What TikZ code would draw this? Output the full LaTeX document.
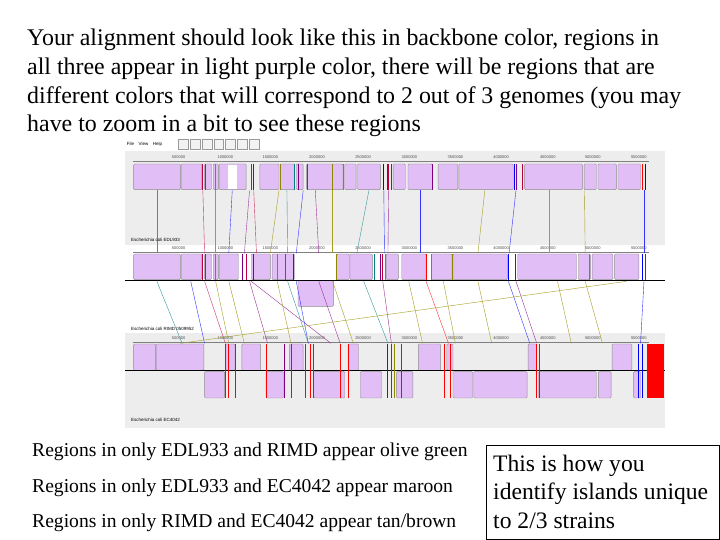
\documentclass[tikz,border=0pt]{standalone}
\usepackage{fontspec}
\setmainfont{Liberation Serif}
\newfontfamily\sansf{Liberation Sans}
\begin{document}
\begin{tikzpicture}[x=1pt,y=-1pt,
 tl/.style={anchor=base west, font=\fontsize{23.9}{23.9}\selectfont, inner sep=0},
 rl/.style={anchor=base west, font=\fontsize{23.6}{23.6}\selectfont, inner sep=0},
 bl/.style={anchor=base west, font=\fontsize{19.6}{19.6}\selectfont, inner sep=0},
 tk/.style={font=\sansf\fontsize{4}{4}\selectfont, text=black!70, inner sep=0},
 gn/.style={font=\sansf\fontsize{4.5}{4.5}\selectfont, anchor=west, inner sep=0}]
\useasboundingbox (0,0) rectangle (720,540);
\definecolor{bb}{RGB}{225,190,245}
\tikzset{blk/.style={fill=bb, draw=black!45, rounded corners=1pt, line width=0.4pt}}
\node[tl] (t1) at (27,46) {Your alignment should look like this in backbone color, regions in};
\node[tl] (t2) at (27,75) {all three appear in light purple color, there will be regions that are};
\node[tl] (t3) at (27,104) {different colors that will correspond to 2 out of 3 genomes (you may};
\node[tl] (t4) at (27,132) {have to zoom in a bit to see these regions};
% screenshot
\begin{scope}[shift={(125,138)}, x=0.346pt, y=-0.3333pt]
\fill[black!7] (0,0) rectangle (1560,870);
\fill[white] (0,0) rectangle (1560,40);
\fill[white] (0,320) rectangle (1560,585);
\node[gn] (menu) at (5,20) {File\quad View\quad Help};
\foreach \i in {0,...,6} \draw[black!40,fill=black!5] (155+\i*34,5) rectangle +(28,28);
% ticks
\foreach \y in {57,329,600}{
 \foreach \x/\l in {155/500000,290/1000000,420/1500000,555/2000000,688/2500000,822/3000000,955/3500000,1087/4000000,1222/4500000,1352/5000000,1485/5500000}
  \node[tk] at (\x,\y) {\l};
 \draw[black!50] (22,70+\y-57) -- (1515,70+\y-57);}
% track 1
\foreach \a/\b in {25/160,162/222,230/250,255/270,272/350,390/445,448/490,495/515,525/630,635/668,672/738,775/810,818/888,905/962,965/1122,1155/1322,1327/1362,1367/1420,1425/1490}
 \draw[blk] (\a,78) rectangle (\b,155);
\fill[white] (298,80) rectangle (325,153);
% track 2
\foreach \a/\b in {25/160,162/222,230/250,255/270,272/328,365/420,425/490,612/648,650/715,755/790,800/870,885/945,948/1105,1135/1305,1310/1345,1350/1410,1415/1485}
 \draw[blk] (\a,348) rectangle (\b,425);
\draw[blk] (500,428) rectangle (603,505);
\draw[black] (0,427) -- (1560,427);
% track 3
\foreach \a/\b in {25/88,90/228,290/318,338/392,475/515,645/675,848/912,930/948,1165/1190,1408/1465}
 \draw[blk] (\a,618) rectangle (\b,697);
\foreach \a/\b in {230/288,408/458,545/635,680/742,785/832,948/1005,1008/1162,1195/1362,1368/1405,1470/1490}
 \draw[blk] (\a,701) rectangle (\b,780);
\draw[black] (0,698) -- (1560,698);
\fill[red] (1510,618) rectangle (1558,780);
% colored boundary lines
\foreach \x/\c in {225/purple,232/red,262/olive,365/red,372/violet,450/olive,490/teal,500/violet,528/red,598/olive,630/olive,748/blue,757/violet,762/purple,770/purple,888/violet,1125/blue,1130/violet,1150/purple,1495/red,1505/blue}
 \draw[\c, line width=0.8pt] (\x,78) -- (\x,155);
\foreach \x/\c in {225/purple,232/red,262/olive,340/violet,350/purple,370/violet,440/olive,465/teal,488/violet,612/olive,720/teal,737/violet,745/purple,752/olive,872/red,885/olive,945/olive,1108/blue,1128/violet,1343/olive,1495/blue,1505/purple}
 \draw[\c, line width=0.8pt] (\x,348) -- (\x,425);
\foreach \x/\c in {290/red,298/red,320/red,408/red,460/violet,480/red,520/red,535/red,545/red,622/red,645/red,757/violet,770/red,778/olive,800/red,922/red,940/red,1190/red,1198/red,1485/blue,1495/blue}
 \draw[\c, line width=0.8pt] (\x,618) -- (\x,780);
% connectors
\foreach \a/\b/\c in {92/92/teal,225/230/purple,262/262/olive,310/300/blue,360/345/violet,372/380/purple,445/420/olive,468/470/teal,515/495/blue,550/560/violet,600/600/olive,705/670/teal,748/750/blue,762/760/violet,852/852/blue,1040/1020/olive,1130/1110/blue,1225/1225/olive,1328/1330/olive,1500/1500/blue}
 \draw[\c!80, line width=0.4pt] (\a,157) -- (\b,346);
\foreach \a/\b/\c in {92/165/teal,190/230/blue,230/290/purple,262/300/olive,300/345/olive,360/412/violet,365/595/violet,440/480/olive,470/530/teal,495/530/blue,560/622/violet,600/660/olive,690/760/teal,745/770/violet,820/860/olive,870/935/red,920/955/olive,1020/1060/olive,1108/1170/blue,1130/1190/violet,1250/1290/olive,1330/1380/olive,1450/160/olive,1500/1490/blue}
 \draw[\c!80, line width=0.4pt] (\a,430) -- (\b,616);
\end{scope}
\node[gn] (g1) at (131,240) {Escherichia coli EDL933};
\node[gn] (g2) at (131,329) {Escherichia coli RIMD 0509952};
\node[gn] (g3) at (131,420) {Escherichia coli EC4042};
\node[bl] (b1) at (32,456) {Regions in only EDL933 and RIMD appear olive green};
\node[bl] (b2) at (32,492) {Regions in only EDL933 and EC4042 appear maroon};
\node[bl] (b3) at (32,527) {Regions in only RIMD and EC4042 appear tan/brown};
\draw[black, line width=0.6pt] (486,445) rectangle (719.7,539.7);
\node[rl] (r1) at (493,471) {This is how you};
\node[rl] (r2) at (493,499) {identify islands unique};
\node[rl] (r3) at (493,528) {to 2/3 strains};
\end{tikzpicture}
\end{document}
